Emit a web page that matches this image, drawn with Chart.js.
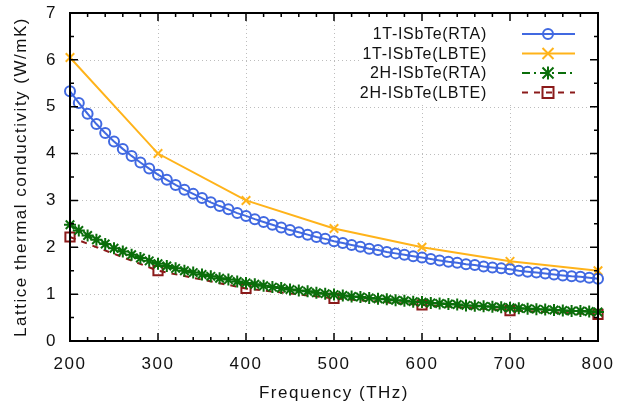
<!DOCTYPE html>
<html>
<head>
<meta charset="utf-8">
<script src="https://cdn.jsdelivr.net/npm/chart.js@4.4.1/dist/chart.umd.min.js"></script>
<style>
html,body{margin:0;padding:0;background:#fff;}
#wrap{width:617px;height:404px;position:relative;}
</style>
</head>
<body>
<div id="wrap"><canvas id="c" width="617" height="404"></canvas></div>
<script>
// ---- data ----
const freqFine = [200,210,220,230,240,250,260,270,280,290,300,310,320,330,340,350,360,370,380,390,
  400,410,420,430,440,450,460,470,480,490,500,510,520,530,540,550,560,570,580,590,
  600,610,620,630,640,650,660,670,680,690,700,710,720,730,740,750,760,770,780,790,800];
const rta1T = [5.33,5.08,4.85,4.63,4.44,4.26,4.10,3.95,3.81,3.68,3.55,3.44,3.33,3.23,3.14,3.05,2.96,2.88,2.81,2.73,
  2.67,2.60,2.54,2.48,2.42,2.37,2.32,2.27,2.22,2.18,2.13,2.09,2.05,2.01,1.97,1.94,1.90,1.87,1.84,1.81,
  1.78,1.75,1.72,1.69,1.67,1.64,1.62,1.59,1.57,1.55,1.53,1.50,1.48,1.46,1.44,1.42,1.40,1.38,1.37,1.35,1.33];
const rta2H = [2.48,2.36,2.25,2.16,2.07,1.98,1.91,1.84,1.77,1.71,1.65,1.60,1.55,1.50,1.46,1.42,1.38,1.34,1.31,1.27,
  1.24,1.21,1.18,1.15,1.13,1.10,1.08,1.06,1.03,1.01,0.99,0.97,0.95,0.94,0.92,0.90,0.89,0.87,0.86,0.84,
  0.83,0.81,0.80,0.79,0.78,0.76,0.75,0.74,0.73,0.72,0.71,0.70,0.69,0.68,0.67,0.66,0.65,0.64,0.64,0.63,0.62];
const freqCoarse = [200,300,400,500,600,700,800];
const lbte1T = [6.05,4.00,3.00,2.40,2.00,1.70,1.50];
const lbte2H = [2.22,1.50,1.12,0.91,0.77,0.65,0.57];
const seriesNames = ['1T-ISbTe(RTA)','1T-ISbTe(LBTE)','2H-ISbTe(RTA)','2H-ISbTe(LBTE)'];
const xTicks = [200,300,400,500,600,700,800];
const yTicks = [0,1,2,3,4,5,6,7];
const xTitle = 'Frequency (THz)';
const yTitle = 'Lattice thermal conductivity (W/mK)';

const toXY = (xs, ys) => xs.map((x, i) => ({x, y: ys[i]}));

const colBlue = '#4169e1', colOrange = '#ffb31a', colGreen = '#0a6e0a', colBrown = '#8b1a1a';
const FONT = '"Liberation Sans", Arial, Helvetica, sans-serif';

const styles = [
  {color: colBlue, dash: [], marker: 'circle'},
  {color: colOrange, dash: [], marker: 'cross'},
  {color: colGreen, dash: [8,4,2,4], marker: 'star'},
  {color: colBrown, dash: [6,6], marker: 'square'}
];

function drawMarker(ctx, type, x, y, color) {
  ctx.save();
  ctx.strokeStyle = color; ctx.lineWidth = 2; ctx.setLineDash([]);
  ctx.beginPath();
  if (type === 'circle') { ctx.arc(x, y, 5, 0, Math.PI*2); }
  else if (type === 'cross') { const r=5.5; ctx.moveTo(x-r,y-r); ctx.lineTo(x+r,y+r); ctx.moveTo(x-r,y+r); ctx.lineTo(x+r,y-r); }
  else if (type === 'star') { const r=5.5; ctx.moveTo(x-r,y-r); ctx.lineTo(x+r,y+r); ctx.moveTo(x-r,y+r); ctx.lineTo(x+r,y-r); ctx.moveTo(x,y-r*1.2); ctx.lineTo(x,y+r*1.2); }
  else if (type === 'square') { ctx.rect(x-5.5, y-5.5, 11, 11); }
  ctx.stroke();
  ctx.restore();
}

const framePlugin = {
  id: 'framePlugin',
  beforeDraw(chart) { chart.ctx.letterSpacing = '1.5px'; },
  beforeDatasetsDraw(chart) {
    const {ctx, chartArea: a, scales: {x, y}} = chart;
    ctx.save();
    ctx.letterSpacing = '0px';
    ctx.strokeStyle = '#bdbdbd'; ctx.lineWidth = 1; ctx.setLineDash([1,3]);
    ctx.beginPath();
    xTicks.forEach(v => { const px = Math.round(x.getPixelForValue(v)) + 0.5; ctx.moveTo(px, a.top); ctx.lineTo(px, a.bottom); });
    yTicks.forEach(v => { const py = Math.round(y.getPixelForValue(v)) + 0.5; ctx.moveTo(a.left, py); ctx.lineTo(a.right, py); });
    ctx.stroke();
    // opaque key box
    ctx.fillStyle = '#fff';
    ctx.fillRect(362, a.top + 1, a.right - 363, 103 - a.top);
    ctx.restore();
  },
  afterDatasetsDraw(chart) {
    const {ctx, chartArea: a, scales: {x, y}} = chart;
    ctx.save();
    ctx.setLineDash([]);
    ctx.strokeStyle = '#000'; ctx.lineWidth = 2;
    ctx.strokeRect(a.left, a.top, a.right - a.left, a.bottom - a.top);
    ctx.lineWidth = 1.5;
    ctx.beginPath();
    for (let v = 200; v <= 800; v += 20) {
      const px = x.getPixelForValue(v);
      const L = (v % 100 === 0) ? 8 : 4;
      ctx.moveTo(px, a.bottom); ctx.lineTo(px, a.bottom - L);
      ctx.moveTo(px, a.top); ctx.lineTo(px, a.top + L);
    }
    for (let v = 0; v <= 7; v += 0.5) {
      const py = y.getPixelForValue(v);
      const L = (v % 1 === 0) ? 8 : 4;
      ctx.moveTo(a.left, py); ctx.lineTo(a.left + L, py);
      ctx.moveTo(a.right, py); ctx.lineTo(a.right - L, py);
    }
    ctx.stroke();
    // key
    ctx.letterSpacing = '0.7px';
    ctx.font = '16px ' + FONT;
    ctx.fillStyle = '#111';
    ctx.textAlign = 'right'; ctx.textBaseline = 'middle';
    const rows = [34, 53.5, 73, 92.5];
    seriesNames.forEach((name, i) => {
      const yy = rows[i];
      ctx.fillText(name, 487, yy + 1);
      const s = styles[i];
      ctx.save();
      ctx.strokeStyle = s.color; ctx.lineWidth = 2; ctx.setLineDash(s.dash);
      ctx.beginPath(); ctx.moveTo(522, yy); ctx.lineTo(575, yy); ctx.stroke();
      ctx.restore();
      drawMarker(ctx, s.marker, 548, yy, s.color);
    });
    ctx.restore();
  }
};

const tickFont = {family: FONT, size: 17};

new Chart(document.getElementById('c'), {
  type: 'line',
  data: {
    datasets: [
      {label: seriesNames[0], data: toXY(freqFine, rta1T), borderColor: colBlue, borderWidth: 2,
       pointStyle: 'circle', pointRadius: 5, pointBorderWidth: 2, pointBorderColor: colBlue,
       pointBackgroundColor: 'rgba(0,0,0,0)', clip: false, order: 3},
      {label: seriesNames[1], data: toXY(freqCoarse, lbte1T), borderColor: colOrange, borderWidth: 2,
       pointStyle: 'crossRot', pointRadius: 6, pointBorderWidth: 2, pointBorderColor: colOrange,
       pointBackgroundColor: colOrange, clip: false, order: 4},
      {label: seriesNames[3], data: toXY(freqCoarse, lbte2H), borderColor: colBrown, borderWidth: 2,
       borderDash: [6,6], pointStyle: 'rect', pointRadius: 6.5, pointBorderWidth: 2, pointBorderColor: colBrown,
       pointBackgroundColor: 'rgba(0,0,0,0)', clip: false, order: 2},
      {label: seriesNames[2], data: toXY(freqFine, rta2H), borderColor: colGreen, borderWidth: 2,
       borderDash: [8,4,2,4], pointStyle: 'star', pointRadius: 6, pointBorderWidth: 2, pointBorderColor: colGreen,
       pointBackgroundColor: colGreen, clip: false, order: 1}
    ]
  },
  options: {
    responsive: false,
    animation: false,
    devicePixelRatio: 1,
    layout: {padding: {left: 0, top: 13, right: 19, bottom: 0}},
    elements: {line: {tension: 0}},
    plugins: {legend: {display: false}, tooltip: {enabled: false}},
    scales: {
      x: {
        type: 'linear', min: 200, max: 800,
        grid: {display: false, drawTicks: false},
        border: {display: false},
        afterBuildTicks: s => { s.ticks = xTicks.map(v => ({value: v})); },
        afterFit: s => { s.height = 63; s.paddingLeft = 0; s.paddingRight = 0; },
        ticks: {font: tickFont, color: '#111', padding: 13, maxRotation: 0, autoSkip: false},
        title: {display: true, text: xTitle, font: tickFont, color: '#111', padding: {top: 0, bottom: 0}}
      },
      y: {
        type: 'linear', min: 0, max: 7,
        grid: {display: false, drawTicks: false},
        border: {display: false},
        afterBuildTicks: s => { s.ticks = yTicks.map(v => ({value: v})); },
        afterFit: s => { s.width = 70; s.paddingTop = 0; s.paddingBottom = 0; },
        ticks: {font: tickFont, color: '#111', padding: 13, autoSkip: false},
        title: {display: true, text: yTitle, font: tickFont, color: '#111', padding: {top: 11, bottom: 0}}
      }
    }
  },
  plugins: [framePlugin]
});
</script>
</body>
</html>
